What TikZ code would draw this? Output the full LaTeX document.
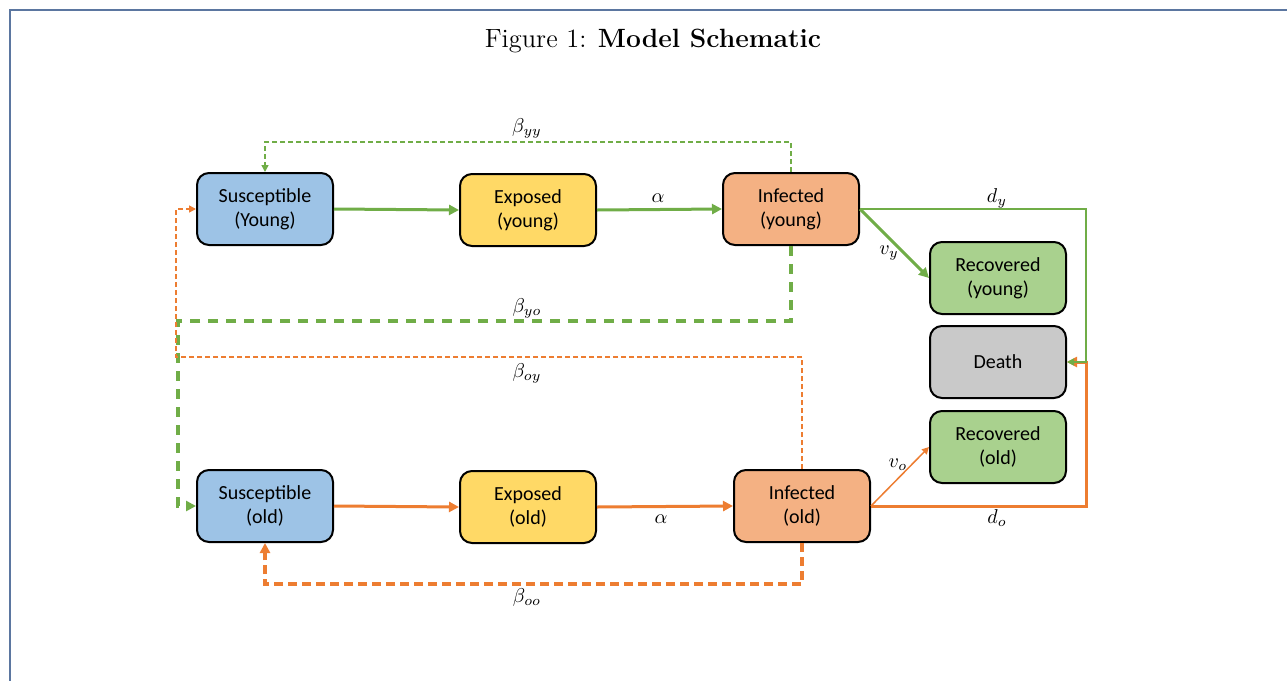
\documentclass[tikz,border=0pt]{standalone}
\usepackage{fontspec}
\newfontfamily\boxfont{Carlito}
\usetikzlibrary{arrows.meta}
\definecolor{gr}{HTML}{70AD47}
\definecolor{og}{HTML}{ED7D31}
\definecolor{frame}{HTML}{5B76A0}
\definecolor{blu}{HTML}{9DC3E6}
\definecolor{yel}{HTML}{FFD966}
\definecolor{sal}{HTML}{F4B183}
\definecolor{lgr}{HTML}{A9D18E}
\definecolor{gry}{HTML}{C9C9C9}
\begin{document}
\begin{tikzpicture}[x=0.5pt,y=-0.5pt,
  box/.style={draw=black, line width=1pt, rounded corners=6pt, minimum width=68pt, minimum height=36pt, align=center, inner sep=0pt, font=\boxfont\fontsize{10}{12}\selectfont},
  thickarr/.style={line width=1.5pt, -{Triangle[length=5pt,width=5pt]}},
  thinarr/.style={line width=0.75pt, -{Triangle[length=3.5pt,width=3.5pt]}},
  bigdash/.style={dash pattern=on 5pt off 4pt},
  smalldash/.style={dash pattern=on 2.5pt off 1.5pt},
  lbl/.style={inner sep=0pt, font=\fontsize{10}{12}\selectfont}]
\useasboundingbox (0,0) rectangle (1287,681);
\fill[white] (0,0) rectangle (1287,681);
\draw[frame, line width=1pt] (9.5,681) -- (9.5,9.5) -- (1287,9.5);
\node[inner sep=0pt, font=\fontsize{13.2}{16}\selectfont] (title) at (653,41) {Figure 1: \textbf{Model Schematic}};

\node[box, fill=blu] (sy) at (265,209) {Susceptible\\(Young)};
\node[box, fill=yel] (ey) at (528,210) {Exposed\\(young)};
\node[box, fill=sal] (iy) at (791,209) {Infected\\(young)};
\node[box, fill=lgr] (ry) at (998,278) {Recovered\\(young)};
\node[box, fill=gry] (death) at (998,362) {Death};
\node[box, fill=lgr] (ro) at (998,447) {Recovered\\(old)};
\node[box, fill=blu] (so) at (265,506) {Susceptible\\(old)};
\node[box, fill=yel] (eo) at (528,507) {Exposed\\(old)};
\node[box, fill=sal] (io) at (802,506) {Infected\\(old)};

\coordinate (dr) at (1086,362);
\coordinate (cyo) at (178,321);
\coordinate (coy) at (176,357);

% young chain
\draw[gr, thickarr] (sy.east) -- (ey.west);
\draw[gr, thickarr] (ey.east) -- (iy.west);
% beta_yy
\draw[gr, thinarr, smalldash] (iy.north) -- ++(0,-30) -| (sy.north);
% d_y
\draw[og, line width=1.5pt, -{Triangle[length=5pt,width=5pt]}] (io.east) -| (dr) -- (death.east);
\draw[gr, thinarr] (iy.east) -| (dr) -- (death.east);
% v_y
\draw[gr, thickarr] (iy.east) -- (ry.west);
% beta_yo
\draw[gr, line width=1.75pt, bigdash, -{Triangle[length=5pt,width=5pt]}] (iy.south) |- (cyo) |- (so.west);
% beta_oy
\draw[og, thinarr, smalldash] (io.north) |- (coy) |- (sy.west);
% beta_oo
\draw[og, line width=1.6pt, dash pattern=on 4.5pt off 2.5pt, -{Triangle[length=5pt,width=5pt]}] (io.south) -- ++(0,41) -| (so.south);
% old chain
\draw[og, thickarr] (so.east) -- (eo.west);
\draw[og, thickarr] (eo.east) -- (io.west);
\draw[og, thinarr] (io.east) -- (ro.west);

% labels
\node[lbl] (lyy) at (527,128) {$\beta_{yy}$};
\node[lbl] (lyo) at (527,308) {$\beta_{yo}$};
\node[lbl] (loy) at (527,373) {$\beta_{oy}$};
\node[lbl] (loo) at (527,597) {$\beta_{oo}$};
\node[lbl] (ldy) at (997,198) {$d_y$};
\node[lbl] (ldo) at (997,518) {$d_o$};
\node[lbl] (la1) at (658,198) {$\alpha$};
\node[lbl] (la2) at (661,519) {$\alpha$};
\node[lbl] (lvy) at (889,253) {$v_y$};
\node[lbl] (lvo) at (898,465) {$v_o$};
\end{tikzpicture}
\end{document}
